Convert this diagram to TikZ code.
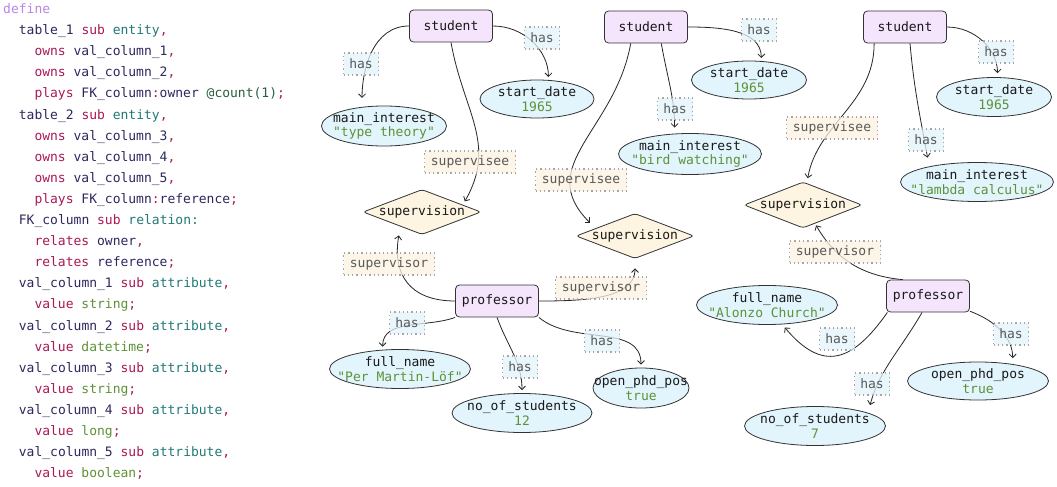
\documentclass[tikz,border=0pt]{standalone}
\usepackage{fontspec}
\setmonofont{DejaVu Sans Mono}
\usepackage{tikz}
\usetikzlibrary{backgrounds}
\usetikzlibrary{arrows.meta}
\usetikzlibrary{shapes.geometric}
\definecolor{kwdefine}{RGB}{185,135,225}
\definecolor{kwred}{RGB}{170,25,85}
\definecolor{kwnavy}{RGB}{45,40,95}
\definecolor{kwteal}{RGB}{35,120,120}
\definecolor{kwann}{RGB}{40,95,65}
\definecolor{valgreen}{RGB}{95,145,55}
\definecolor{thingfill}{RGB}{244,228,252}
\definecolor{attrfill}{RGB}{226,245,253}
\definecolor{relfill}{RGB}{253,244,225}
\newcommand{\kw}[1]{\textcolor{kwred}{#1}}
\newcommand{\ty}[1]{\textcolor{kwteal}{#1}}
\newcommand{\vl}[1]{\textcolor{valgreen}{#1}}
\tikzstyle{code}=[anchor=base west, inner sep=0pt, font=\ttfamily\fontsize{13}{15}\selectfont, text=kwnavy]
\tikzstyle{thing}=[rectangle, rounded corners=4pt, draw=black!80, line width=0.8pt, fill=thingfill, minimum width=83pt, minimum height=32pt, inner sep=0pt]
\tikzstyle{attr}=[ellipse, draw=black!80, line width=0.8pt, fill=attrfill, inner xsep=-30pt, inner ysep=-12pt, minimum width=141pt, minimum height=39pt, align=center]
\tikzstyle{rel}=[diamond, rounded corners=3pt, draw=black!80, line width=0.8pt, fill=relfill, inner xsep=-40pt, inner ysep=-15pt, minimum width=118pt, minimum height=45pt]
\tikzstyle{lbl}=[rectangle, draw=black!35, line width=1.3pt, dash pattern=on 1.3pt off 3pt, fill opacity=0.75, text opacity=1, text=black!65, inner sep=0pt, minimum height=22pt]
\tikzstyle{has}=[lbl, fill=attrfill, minimum width=35pt]
\tikzstyle{role}=[lbl, fill=relfill, minimum width=91pt]
\tikzstyle{edge}=[draw=black!85, line width=0.8pt, -{Straight Barb[length=3.5pt,width=7pt]}, shorten >=3pt]

\begin{document}
\begin{tikzpicture}[x=1pt, y=1pt, font=\ttfamily\fontsize{13}{14.5}\selectfont, text=black!90]
	\path[use as bounding box] (0,0) rectangle (1057,-487);

	\draw (3,-13.5) node[code, text=kwdefine] (c0) {define};
	\draw (18.7,-34.6) node[code] (c1) {table\_1 \kw{sub} \ty{entity}\kw{,}};
	\draw (34.3,-55.7) node[code] (c2) {\kw{owns} val\_column\_1\kw{,}};
	\draw (34.3,-76.8) node[code] (c3) {\kw{owns} val\_column\_2\kw{,}};
	\draw (34.3,-97.9) node[code] (c4) {\kw{plays} FK\_column\kw{:}owner \textcolor{kwann}{@count(1)}\kw{;}};
	\draw (18.7,-119.0) node[code] (c5) {table\_2 \kw{sub} \ty{entity}\kw{,}};
	\draw (34.3,-140.1) node[code] (c6) {\kw{owns} val\_column\_3\kw{,}};
	\draw (34.3,-161.2) node[code] (c7) {\kw{owns} val\_column\_4\kw{,}};
	\draw (34.3,-182.3) node[code] (c8) {\kw{owns} val\_column\_5\kw{,}};
	\draw (34.3,-203.4) node[code] (c9) {\kw{plays} FK\_column\kw{:}reference\kw{;}};
	\draw (18.7,-224.5) node[code] (c10) {FK\_column \kw{sub} \ty{relation:}};
	\draw (34.3,-245.6) node[code] (c11) {\kw{relates} owner\kw{,}};
	\draw (34.3,-266.7) node[code] (c12) {\kw{relates} reference\kw{;}};
	\draw (18.7,-287.8) node[code] (c13) {val\_column\_1 \kw{sub} \ty{attribute}\kw{,}};
	\draw (34.3,-308.9) node[code] (c14) {\kw{value} \vl{string}\kw{;}};
	\draw (18.7,-330.0) node[code] (c15) {val\_column\_2 \kw{sub} \ty{attribute}\kw{,}};
	\draw (34.3,-351.1) node[code] (c16) {\kw{value} \vl{datetime}\kw{;}};
	\draw (18.7,-372.2) node[code] (c17) {val\_column\_3 \kw{sub} \ty{attribute}\kw{,}};
	\draw (34.3,-393.3) node[code] (c18) {\kw{value} \vl{string}\kw{;}};
	\draw (18.7,-414.4) node[code] (c19) {val\_column\_4 \kw{sub} \ty{attribute}\kw{,}};
	\draw (34.3,-435.5) node[code] (c20) {\kw{value} \vl{long}\kw{;}};
	\draw (18.7,-456.6) node[code] (c21) {val\_column\_5 \kw{sub} \ty{attribute}\kw{,}};
	\draw (34.3,-477.7) node[code] (c22) {\kw{value} \vl{boolean}\kw{;}};

	\draw (451,-26) node[thing] (student1) {student};
	\draw (537,-99) node[attr, minimum width=114pt, minimum height=38pt] (sd1) {start\_date\\\vl{1965}};
	\draw (384,-126) node[attr, minimum width=125pt, minimum height=40pt] (mi1) {main\_interest\\\vl{"type theory"}};
	\draw (422,-212) node[rel] (sv1) {supervision};
	\draw (497,-301) node[thing] (prof1) {professor};
	\draw (400,-369) node[attr] (fn1) {full\_name\\\vl{"Per Martin-Löf"}};
	\draw (522,-413) node[attr, minimum width=140pt] (ns1) {no\_of\_students\\\vl{12}};
	\draw (641,-388) node[attr, minimum width=96pt, minimum height=40pt] (op1) {open\_phd\_pos\\\vl{true}};

	\draw (646,-27) node[thing] (student2) {student};
	\draw (749,-80) node[attr, minimum width=115pt, minimum height=38pt] (sd2) {start\_date\\\vl{1965}};
	\draw (690,-154) node[attr, minimum width=143pt, minimum height=41pt] (mi2) {main\_interest\\\vl{"bird watching"}};
	\draw (635,-236) node[rel] (sv2) {supervision};

	\draw (905,-27) node[thing] (student3) {student};
	\draw (994,-97) node[attr, minimum width=115pt] (sd3) {start\_date\\\vl{1965}};
	\draw (977,-182) node[attr, minimum width=153pt] (mi3) {main\_interest\\\vl{"lambda calculus"}};
	\draw (803,-205) node[rel, minimum height=46pt] (sv3) {supervision};
	\draw (928,-296) node[thing] (prof3) {professor};
	\draw (767,-305) node[attr] (fn3) {full\_name\\\vl{"Alonzo Church"}};
	\draw (815,-426) node[attr] (ns3) {no\_of\_students\\\vl{7}};
	\draw (978,-381) node[attr, minimum height=38pt] (op3) {open\_phd\_pos\\\vl{true}};

	\draw (361,-64) node[has] (has1) {has};
	\draw (542,-38) node[has] (has2) {has};
	\draw (470,-162) node[role] (see1) {supervisee};
	\draw (389,-264) node[role] (sor1) {supervisor};
	\draw (601,-288) node[role] (sor2) {supervisor};
	\draw (407,-323) node[has] (has3) {has};
	\draw (520,-367) node[has] (has4) {has};
	\draw (602,-341) node[has] (has5) {has};
	\draw (759,-30) node[has] (has6) {has};
	\draw (581,-180) node[role] (see2) {supervisee};
	\draw (675,-109) node[has] (has7) {has};
	\draw (996,-52) node[has] (has8) {has};
	\draw (926,-140) node[has] (has9) {has};
	\draw (832,-128) node[role] (see3) {supervisee};
	\draw (835,-252) node[role] (sor3) {supervisor};
	\draw (837,-339) node[has] (has10) {has};
	\draw (872,-384) node[has] (has11) {has};
	\draw (1011,-334) node[has] (has12) {has};

	\begin{scope}[on background layer]
	\fill[white] (0,0) rectangle (1057,-487);
	\draw[edge, shorten >=9pt] (student1.west) to[out=180, in=90] (mi1.139);
	\draw[edge] (student1.east) to[out=0, in=90] (sd1.59);
	\draw[edge, shorten >=4pt] (student1.south) to[out=-80, in=60, looseness=1.1] (sv1.10);
	\draw[edge, shorten >=9pt] (prof1.west) to[out=180, in=-100, looseness=1.3] (sv1.214);
	\draw[edge, shorten >=9.5pt] (prof1.east) to[out=0, in=-90] (sv2.south);
	\draw[edge] (prof1.south west) to[out=-160, in=90] (fn1.132);
	\draw[edge] (prof1.south) to[out=-70, in=90] (ns1.north);
	\draw[edge] (prof1.south east) to[out=-40, in=90] (op1.north);
	\draw[edge] (student2.east) to[out=0, in=90] (sd2.57);
	\draw[edge, shorten >=8pt] (student2.-133) to[out=-100, in=135, looseness=1.2] (sv2.169);
	\draw[edge, shorten >=6pt] (student2.-47) to[out=-80, in=90] (mi2.127);
	\draw[edge, shorten >=4pt] (student3.east) to[out=0, in=90] (sd3.80);
	\draw[edge, shorten >=9pt] (student3.-73) to[out=-85, in=100] (mi3.162);
	\draw[edge, shorten >=5pt] (student3.-152) to[out=-90, in=80] (sv3.80);
	\draw[edge, shorten >=2pt] (prof3.147) to[out=175, in=-60] (sv3.-57);
	\draw[edge, shorten >=4pt] (prof3.-158) to[out=-125, in=-50, looseness=1.5] (fn3.-52);
	\draw[edge, shorten >=8pt] (prof3.-110) to[out=-120, in=75] (ns3.14);
	\draw[edge, shorten >=6pt] (prof3.-20) to[out=-20, in=90] (op3.26);
	\end{scope}
\end{tikzpicture}
\end{document}
